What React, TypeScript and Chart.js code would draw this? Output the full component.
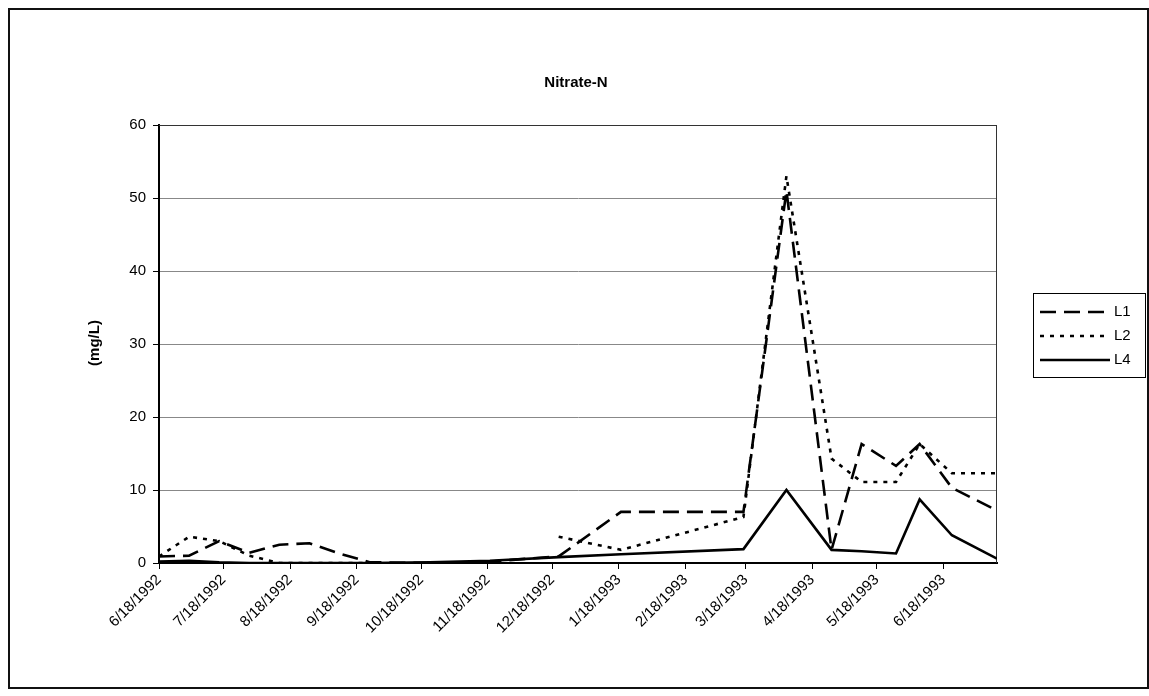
import React, { useEffect, useRef } from "react";
import { Chart, registerables } from "chart.js";

Chart.register(...registerables);

// ---- data ----
const sampleDates = [
  "6/18/1992", "7/2/1992", "7/16/1992", "7/30/1992", "8/13/1992", "8/27/1992",
  "9/10/1992", "9/24/1992", "10/22/1992", "11/19/1992", "12/21/1992", "1/19/1993",
  "3/17/1993", "4/6/1993", "4/27/1993", "5/11/1993", "5/27/1993", "6/7/1993",
  "6/22/1993", "7/13/1993",
];
const l1Values: (number | null)[] = [
  0.9, 1.0, 3.0, 1.4, 2.5, 2.7, 1.3, 0.1, 0.0, 0.2, 0.9, 7.0,
  7.0, 51.0, 1.8, 16.3, 13.3, 16.3, 10.3, 7.2,
];
const l2Values: (number | null)[] = [
  0.9, 3.6, 3.0, 1.0, 0.0, 0.0, 0.0, 0.0, null, null, 3.6, 1.8,
  6.3, 53.0, 14.3, 11.1, 11.1, 16.3, 12.3, 12.3,
];
const l4Values: (number | null)[] = [
  0.2, 0.3, 0.1, 0.0, 0.0, 0.0, 0.0, 0.0, 0.1, 0.3, 0.8, 1.2,
  1.9, 10.0, 1.8, 1.6, 1.3, 8.7, 3.8, 0.6,
];
const seriesNames = ["L1", "L2", "L4"];
const tickLabels = [
  "6/18/1992", "7/18/1992", "8/18/1992", "9/18/1992", "10/18/1992", "11/18/1992",
  "12/18/1992", "1/18/1993", "2/18/1993", "3/18/1993", "4/18/1993", "5/18/1993",
  "6/18/1993",
];
const yTicks = [0, 10, 20, 30, 40, 50, 60];
const chartTitle = "Nitrate-N";
const yTitle = "(mg/L)";

// ---- helpers ----
const ORIGIN = tickLabels[0];
function dayOffset(s: string): number {
  const [m, d, y] = s.split("/").map(Number);
  const [om, od, oy] = ORIGIN.split("/").map(Number);
  return Math.round((Date.UTC(y, m - 1, d) - Date.UTC(oy, om - 1, od)) / 86400000);
}
const tickDays = tickLabels.map(dayOffset);
const sampleDays = sampleDates.map(dayOffset);
const maxDay = sampleDays[sampleDays.length - 1];

const FONT = "'Liberation Sans', Arial, sans-serif";
const W = 1141;
const H = 681;
const dashes: number[][] = [[16, 8], [4, 6], []];

export default function App() {
  const ref = useRef<HTMLCanvasElement | null>(null);

  useEffect(() => {
    if (!ref.current) return;
    const valueSets = [l1Values, l2Values, l4Values];
    const datasets = seriesNames.map((name, si) => ({
      label: name,
      data: sampleDays.map((d, i) => ({ x: d, y: valueSets[si][i] })),
      borderColor: "#000",
      backgroundColor: "#000",
      borderWidth: 2.6,
      borderDash: dashes[si],
      pointRadius: 0,
      pointHoverRadius: 0,
      fill: false,
      tension: 0,
      spanGaps: false,
    }));

    const decor = {
      id: "decor",
      beforeDatasetsDraw(chart: any) {
        const { ctx, chartArea: a } = chart;
        ctx.save();
        ctx.strokeStyle = "#333";
        ctx.lineWidth = 1;
        ctx.beginPath();
        ctx.moveTo(a.left, a.top + 0.5);
        ctx.lineTo(a.right - 0.5, a.top + 0.5);
        ctx.lineTo(a.right - 0.5, a.bottom);
        ctx.stroke();
        ctx.restore();
      },
      afterDraw(chart: any) {
        const { ctx } = chart;
        ctx.save();
        // outer frame
        ctx.strokeStyle = "#111";
        ctx.lineWidth = 2;
        ctx.strokeRect(1, 1, W - 2, H - 2);
        // title
        ctx.fillStyle = "#000";
        ctx.font = `bold 15px ${FONT}`;
        ctx.textAlign = "center";
        ctx.textBaseline = "middle";
        ctx.fillText(chartTitle, 568, 75);
        // y title
        ctx.save();
        ctx.translate(87, 335);
        ctx.rotate(-Math.PI / 2);
        ctx.fillText(yTitle, 0, 0);
        ctx.restore();
        // legend
        const lx = 1025, ly = 285, lw = 112, lh = 84;
        ctx.lineWidth = 1;
        ctx.strokeStyle = "#000";
        ctx.setLineDash([]);
        ctx.fillStyle = "#fff";
        ctx.fillRect(lx, ly, lw, lh);
        ctx.strokeRect(lx + 0.5, ly + 0.5, lw, lh);
        ctx.fillStyle = "#000";
        ctx.font = `15px ${FONT}`;
        ctx.textAlign = "left";
        const rows = [19, 43, 67];
        seriesNames.forEach((name, i) => {
          const y = ly + rows[i];
          ctx.save();
          ctx.lineWidth = 2.6;
          ctx.setLineDash(dashes[i]);
          ctx.beginPath();
          ctx.moveTo(lx + 7, y);
          ctx.lineTo(lx + 77, y);
          ctx.stroke();
          ctx.restore();
          ctx.fillText(name, lx + 81, y);
        });
        ctx.restore();
      },
    };

    const chart = new Chart(ref.current, {
      type: "line",
      data: { datasets } as any,
      plugins: [decor],
      options: {
        animation: false,
        responsive: false,
        devicePixelRatio: 1,
        layout: { padding: { top: 117, right: W - 989, left: 0, bottom: 0 } },
        plugins: { legend: { display: false }, title: { display: false }, tooltip: { enabled: false } },
        scales: {
          x: {
            type: "linear",
            min: 0,
            max: maxDay,
            afterBuildTicks: (s: any) => {
              s.ticks = tickDays.map((v) => ({ value: v }));
            },
            afterFit: (s: any) => {
              s.height = H - 555;
            },
            ticks: {
              autoSkip: false,
              minRotation: 45,
              maxRotation: 45,
              padding: 2,
              color: "#000",
              font: { family: FONT, size: 15 },
              callback: (_v: any, i: number) => tickLabels[i],
            },
            grid: { drawOnChartArea: false, drawTicks: true, tickLength: 6, tickColor: "#000", lineWidth: 1 },
            border: { display: true, color: "#000", width: 2 },
          },
          y: {
            min: 0,
            max: 60,
            afterBuildTicks: (s: any) => {
              s.ticks = yTicks.map((v) => ({ value: v }));
            },
            afterFit: (s: any) => {
              s.width = 151;
            },
            ticks: {
              padding: 7,
              color: "#000",
              font: { family: FONT, size: 15 },
            },
            grid: {
              color: (c: any) => (c.tick && c.tick.value === 60 ? "#333" : "#888"),
              lineWidth: 1,
              tickLength: 6,
              tickColor: "#000",
            },
            border: { display: true, color: "#000", width: 2 },
          },
        },
      } as any,
    });
    return () => chart.destroy();
  }, []);

  return (
    <div style={{ position: "fixed", left: 8, top: 8, width: W, height: H, background: "#fff" }}>
      <canvas ref={ref} width={W} height={H} style={{ display: "block", width: W, height: H }} />
    </div>
  );
}
